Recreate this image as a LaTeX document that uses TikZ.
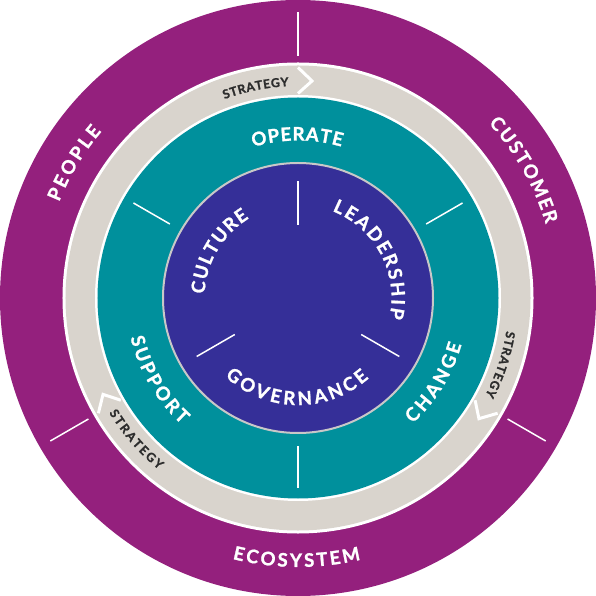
\documentclass[tikz,border=0pt]{standalone}
\usepackage{fontspec}
\setmainfont{Lato}[BoldFeatures={FakeBold=1.3}]
\usetikzlibrary{decorations.text}
\definecolor{ringpurple}{RGB}{148,32,125}
\definecolor{ringgray}{RGB}{217,212,205}
\definecolor{ringteal}{RGB}{0,144,156}
\definecolor{coreblue}{RGB}{53,47,152}
\definecolor{coreborder}{RGB}{200,200,200}
\definecolor{strattext}{RGB}{45,45,45}
\newcommand\bigtxt{\fontsize{18.6}{20}\selectfont\bfseries\color{white}}
\newcommand\smalltxt{\fontsize{12.3}{13}\selectfont\bfseries\color{strattext}}
% #1 start angle, #2 end angle, #3 baseline radius, #4 format, #5 text
\newcommand\curvetext[5]{%
  \path[decorate,decoration={text along path,text={|#4|#5},text align={fit to path}}]
    (#1:#3) arc[start angle=#1,end angle=#2,radius=#3];}
\begin{document}
\begin{tikzpicture}[
  divider/.style={white,line width=1.5pt},
  chevron/.style={white,line width=3pt,line join=miter}]
\useasboundingbox (-298pt,-298pt) rectangle (298pt,298pt);
% rings
\fill[ringpurple] (0,0) circle[radius=298pt];
\fill[white] (0,0) circle[radius=235.5pt];
\fill[ringgray] (0,0) circle[radius=232.5pt];
\fill[white] (0,0) circle[radius=203pt];
\fill[ringteal] (0,0) circle[radius=200.5pt];
\draw[coreborder,line width=2pt,fill=coreblue] (0,0) circle[radius=135pt];
% dividers
\foreach \a in {90,210,330} {
  \draw[divider] (\a:242pt) -- (\a:286pt);
  \draw[divider] (\a:73pt) -- (\a:117pt);
}
\foreach \a in {30,150,270} {
  \draw[divider] (\a:148pt) -- (\a:190pt);
}
% chevrons
\foreach \a in {90,210,330} {
  \draw[chevron] (\a:204.5pt) -- (\a-3.7:217.5pt) -- (\a:230.5pt);
}
% outer ring labels
\curvetext{158.1}{139.7}{257.5pt}{\bigtxt}{PEOPLE}
\curvetext{42.5}{16.6}{258.5pt}{\bigtxt}{CUSTOMER}
\curvetext{255.9}{283.5}{269pt}{\bigtxt}{ECOSYSTEM}
% strategy labels
\curvetext{110.3}{92.5}{212pt}{\smalltxt}{STRATEGY}
\curvetext{-9}{-27.5}{211pt}{\smalltxt}{STRATEGY}
\curvetext{211.3}{231}{221pt}{\smalltxt}{STRATEGY}
% teal ring labels
\curvetext{106.5}{74}{157.5pt}{\bigtxt}{OPERATE}
\curvetext{193.3}{227.4}{172pt}{\bigtxt}{SUPPORT}
\curvetext{-47.6}{-15.9}{170pt}{\bigtxt}{CHANGE}
% core labels
\curvetext{177.5}{121.5}{93.5pt}{\bigtxt}{CULTURE}
\curvetext{68.5}{-12.5}{93.5pt}{\bigtxt}{LEADERSHIP}
\curvetext{227}{311.5}{107pt}{\bigtxt}{GOVERNANCE}
\end{tikzpicture}
\end{document}
